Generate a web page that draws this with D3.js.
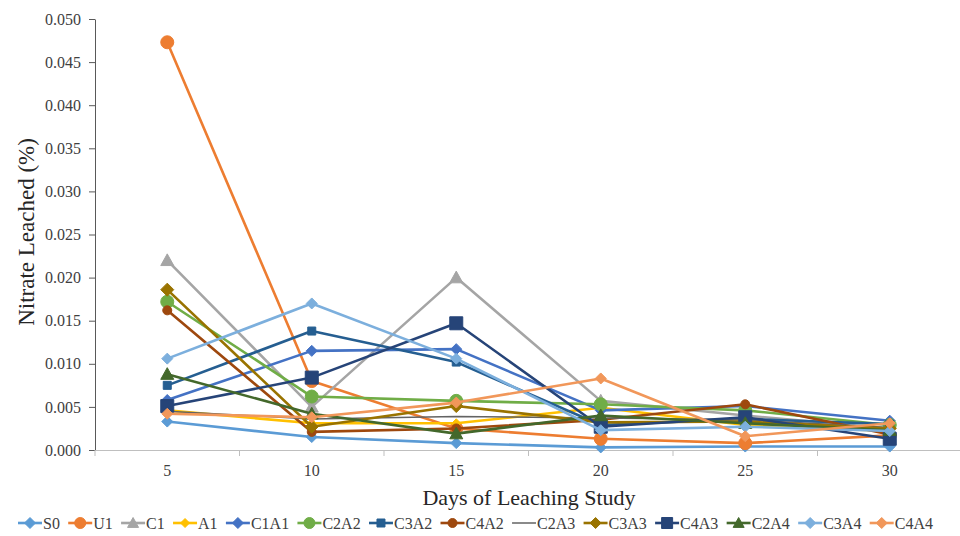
<!DOCTYPE html>
<html>
<head>
<meta charset="utf-8">
<script src="https://cdn.jsdelivr.net/npm/d3@7"></script>
<style>
  body { margin: 0; background: #fff; }
  svg { display: block; }
  svg text { font-family: "Liberation Serif", "Times New Roman", serif !important; }
</style>
</head>
<body>
<svg id="chart" width="960" height="536"></svg>
<script>
// Leaching days (categories)
const days = ["5", "10", "15", "20", "25", "30"];

// Nitrate leached (%) per treatment
const S0   = [0.0033, 0.0015, 0.0008, 0.0003, 0.0004, 0.0004];
const U1   = [0.0473, 0.0080, 0.0025, 0.0013, 0.0008, 0.0017];
const C1   = [0.0220, 0.0050, 0.0200, 0.0057, 0.0040, 0.0025];
const A1   = [0.0046, 0.0031, 0.0031, 0.0049, 0.0029, 0.0022];
const C1A1 = [0.0058, 0.0115, 0.0117, 0.0046, 0.0051, 0.0034];
const C2A2 = [0.0172, 0.0062, 0.0057, 0.0053, 0.0046, 0.0029];
const C3A2 = [0.0075, 0.0138, 0.0102, 0.0029, 0.0036, 0.0030];
const C4A2 = [0.0162, 0.0021, 0.0025, 0.0035, 0.0053, 0.0018];
const C2A3 = [0.0045, 0.0036, 0.0039, 0.0037, 0.0035, 0.0026];
const C3A3 = [0.0186, 0.0027, 0.0051, 0.0032, 0.0033, 0.0025];
const C4A3 = [0.0051, 0.0084, 0.0147, 0.0027, 0.0038, 0.0013];
const C2A4 = [0.0088, 0.0042, 0.0019, 0.0040, 0.0031, 0.0023];
const C3A4 = [0.0106, 0.0170, 0.0106, 0.0023, 0.0027, 0.0022];
const C4A4 = [0.0042, 0.0038, 0.0055, 0.0083, 0.0016, 0.0031];

const yTicks = [0, 0.005, 0.010, 0.015, 0.020, 0.025, 0.030, 0.035, 0.040, 0.045, 0.050];

const series = [
  { name: "S0",   values: S0,   color: "#5B9BD5", shape: "diamond",  size: 11 },
  { name: "U1",   values: U1,   color: "#ED7D31", shape: "circle",   size: 13 },
  { name: "C1",   values: C1,   color: "#A5A5A5", shape: "triangle", size: 13 },
  { name: "A1",   values: A1,   color: "#FFC000", shape: "diamond",  size: 9 },
  { name: "C1A1", values: C1A1, color: "#4472C4", shape: "diamond",  size: 11 },
  { name: "C2A2", values: C2A2, color: "#70AD47", shape: "circle",   size: 13 },
  { name: "C3A2", values: C3A2, color: "#255E91", shape: "square",   size: 8 },
  { name: "C4A2", values: C4A2, color: "#9E480E", shape: "circle",   size: 9 },
  { name: "C2A3", values: C2A3, color: "#636363", shape: "none",     size: 0 },
  { name: "C3A3", values: C3A3, color: "#997300", shape: "diamond",  size: 13 },
  { name: "C4A3", values: C4A3, color: "#264478", shape: "square",   size: 13 },
  { name: "C2A4", values: C2A4, color: "#43682B", shape: "triangle", size: 13 },
  { name: "C3A4", values: C3A4, color: "#7CAFDD", shape: "diamond",  size: 11 },
  { name: "C4A4", values: C4A4, color: "#F1975A", shape: "diamond",  size: 11 }
];

const svg = d3.select("#chart");
const plot = { left: 95, right: 962, top: 19, bottom: 450 };

const x = d3.scaleBand().domain(days).range([plot.left, plot.right]);
const y = d3.scaleLinear().domain([0, 0.05]).range([plot.bottom, plot.top]);
const cx = d => x(d) + x.bandwidth() / 2;

// Marker path for a given shape and size
function markerPath(shape, size) {
  const s = size / 2;
  switch (shape) {
    case "diamond":  return `M0,${-s}L${s},0L0,${s}L${-s},0Z`;
    case "circle":   return d3.symbol(d3.symbolCircle, Math.PI * s * s)();
    case "triangle": return `M0,${-s}L${s},${s * 0.8}L${-s},${s * 0.8}Z`;
    case "square":   return `M${-s},${-s}h${size}v${size}h${-size}Z`;
    default: return "";
  }
}

// Y axis
const yAxis = svg.append("g")
  .attr("transform", `translate(${plot.left},0)`)
  .call(d3.axisLeft(y).tickValues(yTicks).tickFormat(d3.format(".3f")).tickSize(6).tickSizeOuter(0));
yAxis.select(".domain").attr("stroke", "#595959").attr("stroke-width", 1);
yAxis.selectAll(".tick line").attr("stroke", "#595959");
yAxis.selectAll(".tick text")
  .attr("font-size", 16).attr("fill", "#404040").attr("x", -14);

// X axis (category axis, ticks between categories)
const xAxis = svg.append("g")
  .attr("transform", `translate(0,${plot.bottom})`)
  .call(d3.axisBottom(x).tickSize(0).tickSizeOuter(0));
xAxis.select(".domain").attr("stroke", "#BFBFBF").attr("stroke-width", 1);
xAxis.selectAll(".tick text")
  .attr("font-size", 16).attr("fill", "#404040").attr("dy", "1.45em");
xAxis.selectAll(".sep")
  .data(days.map(d => x(d)).concat([plot.right]))
  .join("line")
  .attr("class", "sep")
  .attr("x1", d => d).attr("x2", d => d)
  .attr("y1", 0).attr("y2", 6)
  .attr("stroke", "#BFBFBF");

// Axis titles
svg.append("text")
  .attr("x", 529).attr("y", 505)
  .attr("text-anchor", "middle")
  .attr("font-size", 22).attr("fill", "#262626")
  .text("Days of Leaching Study");

svg.append("text")
  .attr("transform", "translate(34,232) rotate(-90)")
  .attr("text-anchor", "middle")
  .attr("font-size", 23).attr("fill", "#262626")
  .text("Nitrate Leached (%)");

// Series lines and markers
const line = d3.line().x((v, i) => cx(days[i])).y(v => y(v));

const g = svg.append("g");
series.forEach(s => {
  const sg = g.append("g");
  sg.append("path")
    .attr("d", line(s.values))
    .attr("fill", "none")
    .attr("stroke", s.color)
    .attr("stroke-width", s.shape === "none" ? 1.5 : 2.6)
    .attr("stroke-linejoin", "round");
  if (s.shape !== "none") {
    sg.selectAll("path.m")
      .data(s.values)
      .join("path")
      .attr("class", "m")
      .attr("transform", (v, i) => `translate(${cx(days[i])},${y(v)})`)
      .attr("d", markerPath(s.shape, s.size))
      .attr("fill", s.color)
      .attr("stroke", s.color)
      .attr("stroke-width", 1)
      .attr("stroke-linejoin", "round");
  }
});

// Legend
const legend = svg.append("g").attr("transform", "translate(0,523)");
let lx = 18;
series.forEach(s => {
  const item = legend.append("g").attr("transform", `translate(${lx},0)`);
  item.append("line")
    .attr("x1", 0).attr("x2", 24).attr("y1", 0).attr("y2", 0)
    .attr("stroke", s.color)
    .attr("stroke-width", s.shape === "none" ? 1.5 : 2.6);
  if (s.shape !== "none") {
    item.append("path")
      .attr("transform", "translate(12,0)")
      .attr("d", markerPath(s.shape, Math.min(s.size, 11)))
      .attr("fill", s.color).attr("stroke", s.color);
  }
  const t = item.append("text")
    .attr("x", 25).attr("y", 5.5)
    .attr("font-size", 16).attr("fill", "#404040")
    .text(s.name);
  lx += 25 + t.node().getComputedTextLength() + 8.3;
});
</script>
</body>
</html>
